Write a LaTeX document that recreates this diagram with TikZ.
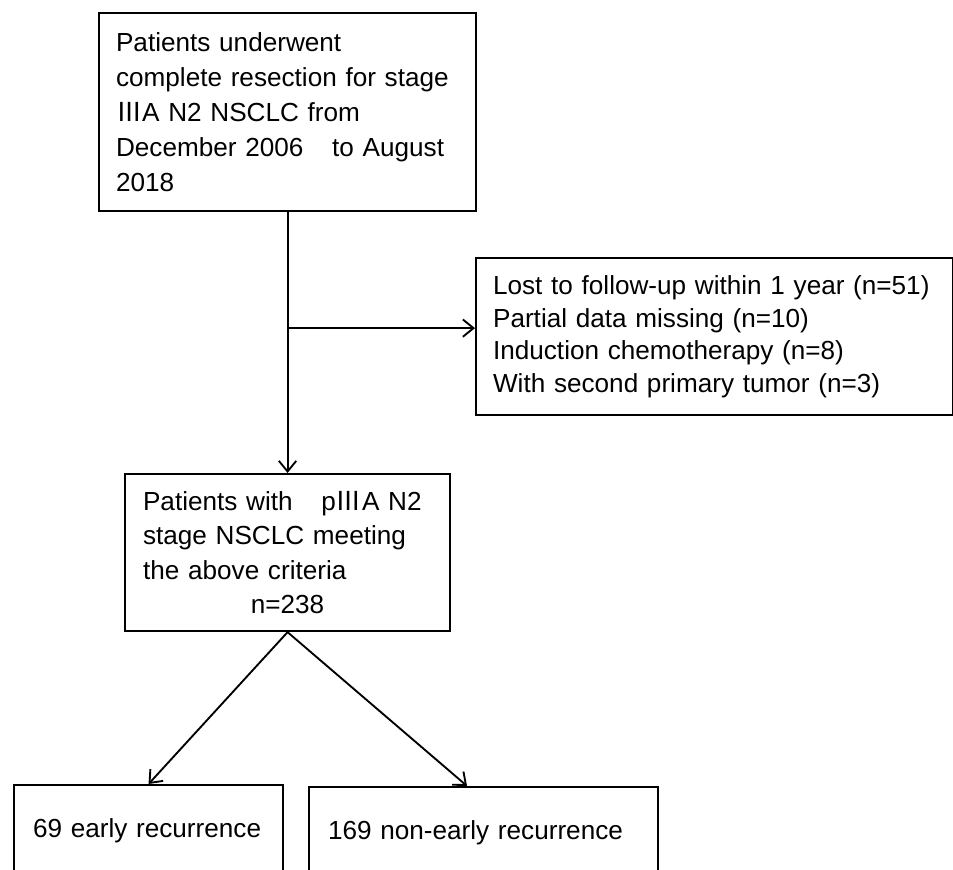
\documentclass[tikz,border=0pt]{standalone}
\usepackage{fontspec}
\setmainfont{Liberation Sans}
\newfontfamily\cjkfont{Noto Sans CJK SC}
\usetikzlibrary{arrows.meta, positioning, calc}
\newcommand{\romIII}{{\cjkfont Ⅲ}}
\tikzset{
  box/.style={draw, line width=1.6pt, anchor=north west, align=left, inner ysep=0pt,
    font=\fontsize{19.6}{26.25}\selectfont},
  flow/.style={line width=1.4pt, -{Straight Barb[length=8pt, width=13pt, line width=1.4pt]}}
}

\begin{document}
\begin{tikzpicture}[x=0.75pt, y=-0.75pt]
  \useasboundingbox (0,0) rectangle (953,869);
  % boxes
  \node[box, inner xsep=12.75pt, text width=257.25pt, minimum height=148.5pt] (resect) at (98,12)
    {Patients underwent\\\mbox{complete resection for stage}\\\romIII A N2 NSCLC from\\\mbox{December 2006\hspace{1.1em}to August}\\2018};
  \node[box, inner xsep=12.75pt, text width=332.25pt, minimum height=117.75pt,
    font=\fontsize{19.6}{24.4}\selectfont] (excl) at (475,257)
    {\mbox{Lost to follow-up within 1 year (n=51)}\\Partial data missing (n=10)\\Induction chemotherapy (n=8)\\With second primary tumor (n=3)};
  \node[box, inner xsep=13.5pt, text width=216.75pt, minimum height=117.75pt,
    font=\fontsize{19.6}{25.9}\selectfont] (sel) at (124,473)
    {\mbox{Patients with\hspace{1.1em}p\romIII A N2}\\stage NSCLC meeting\\the above criteria\\\makebox[\linewidth]{n=238}};
  \node[box, inner xsep=14.25pt, text width=173.25pt, minimum height=69pt] (early) at (13,784)
    {\mbox{69 early recurrence}};
  \node[box, inner xsep=14.25pt, text width=233.25pt, minimum height=69pt] (late) at (308,786)
    {\mbox{169 non-early recurrence}};
  % connectors
  \coordinate (split) at ($(resect.south)+(0,116)$);
  \draw[flow] (resect.south) -- (sel.north);
  \draw[flow] (split) -- (split -| excl.west);
  \draw[flow] (sel.south) -- (early.north);
  \draw[flow] (sel.south) -- ([xshift=-12.4pt]late.north);
\end{tikzpicture}
\end{document}
